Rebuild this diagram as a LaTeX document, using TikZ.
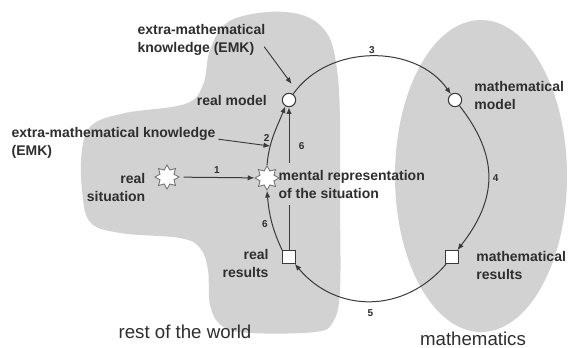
\documentclass[tikz,border=0pt]{standalone}
\usepackage{fontspec}
\setmainfont{Liberation Sans}
\usepackage{xcolor}
\usetikzlibrary{arrows.meta,positioning,shapes.geometric,calc}
\definecolor{inkD}{HTML}{2E2E2E}
\definecolor{lineD}{HTML}{3A3A3A}
\definecolor{blobG}{HTML}{D2D2D2}

\tikzset{
  lbl/.style={font=\bfseries\fontsize{10.5}{13.5}\selectfont, text=inkD, inner sep=1pt},
  num/.style={font=\bfseries\fontsize{7.5}{9}\selectfont, text=inkD, inner sep=1pt},
  world/.style={font=\fontsize{14}{16}\selectfont, text=inkD, inner sep=0pt},
  modelnode/.style={circle, draw=lineD, fill=white, line width=0.8pt,
                    minimum size=10pt, inner sep=0pt},
  resnode/.style={rectangle, draw=lineD, fill=white, line width=0.8pt,
                  minimum size=9.5pt, inner sep=0pt},
  sitnode/.style={star, star points=8, star point ratio=1.6, draw=lineD!75,
                  fill=white, line width=0.6pt, minimum size=18pt, inner sep=0pt},
  cyc/.style={draw=lineD, line width=0.75pt, -{Latex[length=5pt,width=4pt]}},
  emkarr/.style={draw=lineD, line width=0.7pt, -{Latex[length=5pt,width=4pt]}},
}

\begin{document}
\begin{tikzpicture}[x=0.75pt, y=0.75pt]
  \useasboundingbox (0,0) rectangle (571,347);
  \fill[white] (0,0) rectangle (571,347);

  % the two worlds
  \fill[blobG] plot[smooth cycle, tension=0.6] coordinates {
    (268,335) (305,331) (328,312) (337,277) (340,227) (340,147) (340,57)
    (333,25) (315,15) (250,14) (222,21) (210,42) (208,77) (200,99)
    (180,109) (120,114) (90,125) (82,157) (82,197) (92,222) (125,234)
    (185,243) (203,262) (210,297) (228,325)};
  \fill[blobG] (481,171) ellipse [x radius=86, y radius=156];
  \node[world, anchor=base] (restw) at (185,9) {rest of the world};
  \node[world, anchor=base] (mathw) at (473,2) {mathematics};

  % stations of the cycle
  \node[modelnode] (rm) at (289,247) {};
  \node[modelnode] (mm) at (455,247) {};
  \node[resnode] (rr) at (289,90) {};
  \node[resnode] (mr) at (452,90) {};
  \node[sitnode] (rs) at (167,170) {};
  \node[sitnode] (ms) at (267,169) {};

  \node[lbl, anchor=east] (rmtext) at ([xshift=-10pt]rm.west) {real model};
  \node[lbl, align=right, anchor=east] (rstext) at ([xshift=-5.5pt,yshift=-7.5pt]rs.west) {real\\situation};
  \node[lbl, align=right, anchor=east] (rrtext) at ([xshift=-9pt,yshift=-5pt]rr.west) {real\\results};
  \node[lbl, align=left, anchor=west] (mmtext) at ([xshift=8pt,yshift=3.5pt]mm.east) {mathematical\\model};
  \node[lbl, align=left, anchor=west] (mrtext) at ([xshift=12pt,yshift=-6pt]mr.east) {mathematical\\results};
  \node[lbl, align=left, anchor=west, inner ysep=5pt] (mstext) at (277,163) {mental representation\\of the situation};
  \node[lbl, align=left, anchor=west] (emkA) at (136,307) {extra-mathematical\\knowledge (EMK)};
  \node[lbl, align=left, anchor=west] (emkB) at (10,204) {extra-mathematical knowledge\\(EMK)};

  % cycle
  \draw[cyc, shorten <=3pt] (rs) -- (ms) node[num, midway, above=2pt] (n1) {1};
  \draw[cyc] (ms.north) to[out=85,in=-112] coordinate[pos=0.3] (emkBtip)
    node[num, pos=0.45, left=1pt] (n2) {2} (rm.240);
  \draw[cyc] (rm) to[out=55,in=125] node[num, above=1pt] (n3) {3} (mm);
  \draw[cyc] (mm) to[out=-52,in=52, looseness=1.15] node[num, right=2pt] (n4) {4} (mr);
  \draw[cyc] (mr) to[out=-130,in=-50, looseness=1.1] node[num, below=5pt] (n5) {5} (rr);
  \draw[cyc] (rr.north west) to[out=115,in=-85] node[num, pos=0.45, left=2pt] (n6a) {6} (ms.south);
  \draw[draw=lineD, line width=0.75pt] (rr.north) -- (rr.north |- mstext.south);
  \draw[cyc] (rr.north |- mstext.north) -- (rm.south) node[num, pos=0.3, right=6pt] (n6b) {6};

  % extra-mathematical knowledge
  \draw[emkarr] ([shift={(-2pt,-5pt)}]emkA.east) -- ([shift={(2pt,12pt)}]rm.center);
  \draw[emkarr, shorten <=1pt] ([yshift=3pt]emkB.east) -- (emkBtip);
\end{tikzpicture}
\end{document}
